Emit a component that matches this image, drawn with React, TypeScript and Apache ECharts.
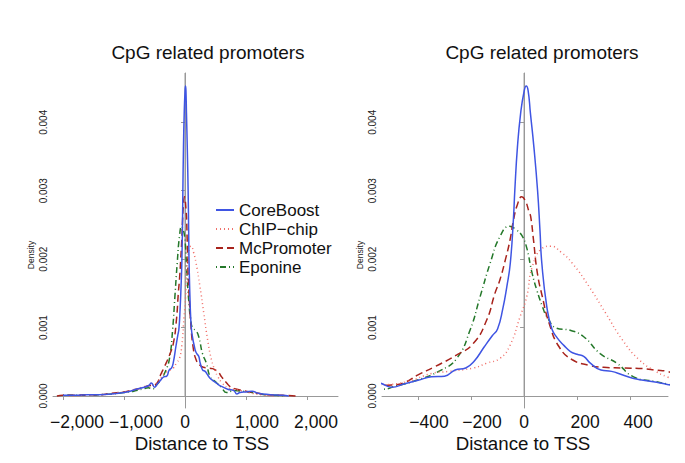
import React, { useEffect, useRef } from "react";
import * as echarts from "echarts";

const seriesNames = ["CoreBoost", "ChIP\u2212chip", "McPromoter", "Eponine"];

const coreBoostX = [-2000,-1800,-1600,-1400,-1200,-1000,-900,-800,-700,-600,-550,-500,-450,-400,-350,-300,-260,-220,-190,-150,-120,-100,-80,-65,-52,-40,-35,-25,-13,0,8,15,24,37,51,60,67,86,105,125,150,175,200,225,250,290,330,370,410,450,500,540,600,700,800,850,900,1000,1100,1200,1400,1600,1700];
const coreBoostY = [0.00001,0.00001,0.00002,0.00002,0.00003,0.00005,0.00007,0.0001,0.00012,0.00015,0.00019,0.00013,0.00018,0.00023,0.00028,0.00029,0.00038,0.00041,0.0005,0.00072,0.00088,0.00098,0.00128,0.0016,0.00194,0.0026,0.003,0.00364,0.00413,0.00445,0.00453,0.00447,0.00413,0.00364,0.003,0.00242,0.00194,0.0013,0.00098,0.00085,0.00074,0.00065,0.00061,0.00058,0.00048,0.00038,0.00036,0.00031,0.00026,0.00023,0.0002,0.00017,0.00014,0.0001,0.00008,0.00003,0.00005,0.00006,0.00007,0.00004,0.00002,0.00001,0];

const chipX = [-1900,-1600,-1400,-1200,-1000,-900,-800,-700,-600,-536,-442,-348,-285,-191,-141,-91,-53,-15,10,31,69,100,140,182,245,308,371,434,497,540,600,700,800,900,1000,1100,1300,1500];
const chipY = [0,0.00001,0.00002,0.00003,0.00006,0.00008,0.0001,0.00013,0.00015,0.00016,0.00021,0.00033,0.00036,0.00041,0.00048,0.00055,0.00074,0.00116,0.00145,0.00189,0.00216,0.00219,0.0021,0.00194,0.0016,0.00121,0.00082,0.00053,0.00036,0.00028,0.0002,0.00012,0.0001,0.00008,0.00006,0.00004,0.00001,0];

const mcPromoterX = [-2100,-2000,-1800,-1600,-1400,-1200,-1000,-900,-800,-700,-600,-500,-450,-400,-336,-254,-191,-141,-110,-91,-70,-53,-40,-25,-9,5,18,25,35,50,69,94,132,182,245,300,371,450,497,540,600,683,750,850,950,1066,1200,1339,1600,1836];
const mcPromoterY = [0,0.00001,0.00001,0.00002,0.00002,0.00004,0.00006,0.00008,0.0001,0.00012,0.00015,0.00016,0.0002,0.00031,0.00043,0.0006,0.00077,0.00111,0.0015,0.0017,0.002,0.00228,0.00257,0.0028,0.00291,0.00285,0.0027,0.00262,0.0023,0.0018,0.00145,0.00107,0.00072,0.00053,0.00045,0.00042,0.00041,0.0004,0.00038,0.00036,0.00028,0.00019,0.00013,0.0001,0.00008,0.00006,0.00004,0.00002,0.00001,0];

const eponineX = [-2000,-1800,-1600,-1400,-1200,-1000,-900,-800,-700,-600,-536,-480,-405,-317,-254,-204,-166,-128,-91,-55,-30,-9,9,30,48,70,86,123,174,224,287,350,413,497,540,600,683,800,950,1100,1300,1500,1650];
const eponineY = [0.00001,0.00001,0.00001,0.00002,0.00003,0.00005,0.00006,0.00008,0.0001,0.00012,0.0001,0.00015,0.00023,0.00037,0.00055,0.00096,0.00145,0.00194,0.00233,0.00248,0.00243,0.00235,0.00218,0.0018,0.00155,0.0013,0.00116,0.00099,0.00096,0.00087,0.00062,0.00048,0.00028,0.00021,0.000175,0.00012,0.00005,0.00008,0.00007,0.00005,0.00002,0.00001,0];

const leftXTicks = [-2000, -1000, 0, 1000, 2000];
const rightXTicks = [-400, -200, 0, 200, 400];
const yTicks = [0, 0.001, 0.002, 0.003, 0.004];

const FONT = "'Liberation Sans', Arial, Helvetica, sans-serif";
const colors = ["#3f55e3", "#f0706a", "#a8231c", "#24782a"];
const dashes: any[] = ["solid", [1, 3], [7, 4], [1, 3, 6, 3]];

function pairs(xs: number[], ys: number[]) {
  return xs.map((x, i) => [x, ys[i]]);
}

const fmtNum = (v: number) => (v < 0 ? "\u2212" : "") + Math.abs(v).toLocaleString("en-US");
// label shift to the right (px), mimicking the source's label placement
const labelShift = (v: number) => {
  if (v === 0) return 0;
  const s = fmtNum(v);
  if (s.length >= 6) return v === -2000 ? 14 : 12;
  if (s.length === 5) return v === 2000 ? 9 : 11;
  if (s.length === 4) return 11;
  return 8;
};
const shiftNames = [0, 8, 9, 11, 12, 14];
const rich: any = {};
shiftNames.forEach((n) => {
  rich["s" + n] = { fontSize: 17.5, fontFamily: FONT, color: "#111", padding: [0, 0, 0, n * 2] };
});
const fmtX = (v: number) => `{s${labelShift(v)}|${fmtNum(v)}}`;

export default function App() {
  const ref = useRef<HTMLDivElement>(null);
  useEffect(() => {
    if (!ref.current) return;
    const chart = echarts.init(ref.current, null, { renderer: "svg" });
    const datasets = [
      pairs(coreBoostX, coreBoostY),
      pairs(chipX, chipY),
      pairs(mcPromoterX, mcPromoterY),
      pairs(eponineX, eponineY),
    ];
    const yMin = -0.000175;
    const yMax = 0.00472;
    const grids = [
      { left: 53, top: 73, width: 285, height: 335 },
      { left: 382, top: 73, width: 286, height: 335 },
    ];
    const axisLine = { show: true, lineStyle: { color: "#999", width: 1 } };
    const xAxes = [
      { min: -2164, max: 2508, ticks: leftXTicks },
      { min: -536, max: 543, ticks: rightXTicks },
    ].map((a, i) => ({
      type: "value",
      gridIndex: i,
      min: a.min,
      max: a.max,
      axisLine,
      splitLine: { show: false },
      axisTick: { show: true, customValues: a.ticks, length: 4, lineStyle: { color: "#999" } },
      axisLabel: {
        customValues: a.ticks,
        formatter: fmtX,
        rich,
        fontSize: 17.5,
        color: "#111",
        fontFamily: FONT,
        margin: 5,
      },
    }));
    const yAxes = [0, 1].map((i) => ({
      type: "value",
      gridIndex: i,
      min: yMin,
      max: yMax,
      axisLine,
      splitLine: { show: false },
      axisTick: { show: true, customValues: yTicks, length: 4, lineStyle: { color: "#999" } },
      axisLabel: {
        customValues: yTicks,
        formatter: (v: number) => v.toFixed(3),
        rotate: 90,
        fontSize: 10,
        color: "#222",
        fontFamily: FONT,
        margin: 5,
      },
    }));
    const series: any[] = [];
    [0, 1].forEach((g) => {
      series.push({
        type: "line",
        xAxisIndex: g,
        yAxisIndex: g,
        data: [[0, 0], [0, yMax]],
        symbol: "none",
        silent: true,
        lineStyle: { color: "#999", width: 1 },
        z: 1,
      });
      datasets.forEach((d, k) => {
        series.push({
          name: seriesNames[k],
          type: "line",
          xAxisIndex: g,
          yAxisIndex: g,
          data: d,
          symbol: "none",
          smooth: 0.5,
          color: colors[k],
          lineStyle: { color: colors[k], width: 1.5, type: dashes[k] },
          z: 2 + (3 - k),
        });
      });
    });
    const titleStyle = { fontSize: 19, fontFamily: FONT, fill: "#111" };
    const axisNameStyle = { fontSize: 18.7, fontFamily: FONT, fill: "#111" };
    chart.setOption({
      animation: false,
      backgroundColor: "#fff",
      grid: grids,
      xAxis: xAxes,
      yAxis: yAxes,
      legend: {
        data: seriesNames,
        orient: "vertical",
        left: 215,
        top: 201.5,
        padding: 0,
        itemWidth: 18,
        itemHeight: 10,
        itemGap: 2,
        itemStyle: { opacity: 0 },
        textStyle: { fontSize: 17, fontFamily: FONT, color: "#111" },
        selectedMode: false,
      },
      series,
      graphic: [
        { type: "text", x: 208, y: 52, style: { text: "CpG related promoters", textAlign: "center", textVerticalAlign: "middle", ...titleStyle } },
        { type: "text", x: 542, y: 52, style: { text: "CpG related promoters", textAlign: "center", textVerticalAlign: "middle", ...titleStyle } },
        { type: "text", x: 202, y: 443, style: { text: "Distance to TSS", textAlign: "center", textVerticalAlign: "middle", ...axisNameStyle } },
        { type: "text", x: 523, y: 443, style: { text: "Distance to TSS", textAlign: "center", textVerticalAlign: "middle", ...axisNameStyle } },
        { type: "text", x: 31, y: 255, rotation: Math.PI / 2, style: { text: "Density", textAlign: "center", textVerticalAlign: "middle", fontSize: 8.5, fontFamily: FONT, fill: "#222" } },
        { type: "text", x: 360, y: 255, rotation: Math.PI / 2, style: { text: "Density", textAlign: "center", textVerticalAlign: "middle", fontSize: 8.5, fontFamily: FONT, fill: "#222" } },
      ],
    });
    return () => chart.dispose();
  }, []);
  return <div ref={ref} style={{ position: "fixed", left: 0, top: 0, width: 685, height: 463 }} />;
}
